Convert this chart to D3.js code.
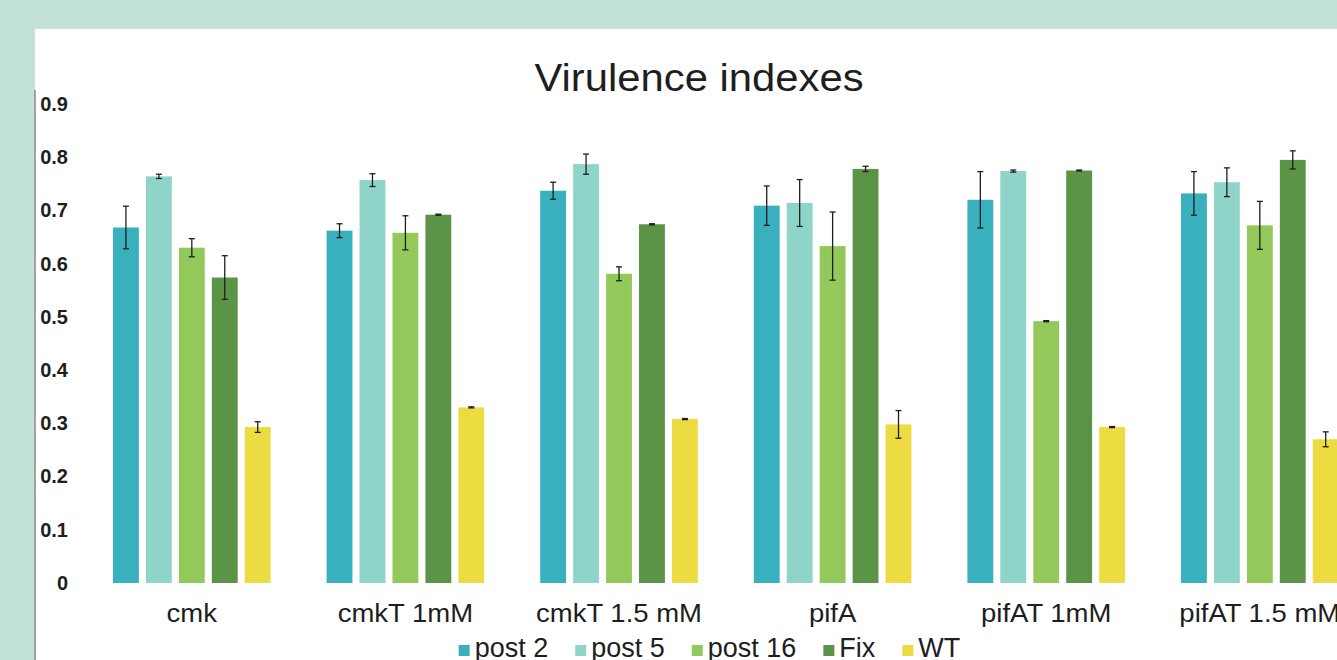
<!DOCTYPE html>
<html>
<head>
<meta charset="utf-8">
<script src="https://cdn.jsdelivr.net/npm/d3@7"></script>
<style>
  html, body { margin: 0; padding: 0; background: #c1e1d9; }
  svg { display: block; }
  text { font-family: "Liberation Sans", Arial, Helvetica, sans-serif; fill: #1e1e1e; }
</style>
</head>
<body>
<svg id="chart" width="1337" height="660"></svg>
<script>
// ---- data ----
const categories = ["cmk", "cmkT 1mM", "cmkT 1.5 mM", "pifA", "pifAT 1mM", "pifAT 1.5 mM"];
const seriesNames = ["post 2", "post 5", "post 16", "Fix", "WT"];
const post2    = [0.668, 0.662, 0.737, 0.709, 0.720, 0.732];
const post2Err = [0.040, 0.013, 0.016, 0.037, 0.053, 0.041];
const post5    = [0.764, 0.757, 0.787, 0.714, 0.774, 0.753];
const post5Err = [0.004, 0.012, 0.019, 0.044, 0.002, 0.027];
const post16    = [0.630, 0.658, 0.581, 0.633, 0.492, 0.672];
const post16Err = [0.017, 0.032, 0.013, 0.064, 0.001, 0.045];
const fix    = [0.574, 0.692, 0.674, 0.778, 0.775, 0.795];
const fixErr = [0.041, 0.001, 0.001, 0.005, 0.001, 0.017];
const wt    = [0.293, 0.330, 0.308, 0.298, 0.293, 0.270];
const wtErr = [0.010, 0.001, 0.001, 0.026, 0.001, 0.014];
const yTicks = [0, 0.1, 0.2, 0.3, 0.4, 0.5, 0.6, 0.7, 0.8, 0.9];
const yTickLabels = ["0", "0.1", "0.2", "0.3", "0.4", "0.5", "0.6", "0.7", "0.8", "0.9"];
const colors = ["#39b0bd", "#8ed4c8", "#93c95b", "#5c9447", "#ecdb41"];
const title = "Virulence indexes";

const values = [post2, post5, post16, fix, wt];
const errors = [post2Err, post5Err, post16Err, fixErr, wtErr];
const table = categories.map((c, i) => ({
  cat: c,
  items: seriesNames.map((s, j) => ({ s, v: values[j][i], e: errors[j][i] }))
}));

const svg = d3.select("#chart");
const W = 1337, H = 660;
const STRETCH = 1.1;

// white panel
svg.append("rect").attr("x", 35).attr("y", 29).attr("width", W - 35).attr("height", H - 29).attr("fill", "#ffffff");
// left axis line
svg.append("line").attr("x1", 35).attr("x2", 35).attr("y1", 90).attr("y2", H)
  .attr("stroke", "#8a8a8a").attr("stroke-width", 1.5);

// scales
const y = d3.scaleLinear().domain([0, 0.9]).range([583, 104]);
const step0 = 213.6, pIn0 = 0.262, pOut0 = 0.3;
const x0start = 113 - pOut0 * step0;
const x0 = d3.scaleBand().domain(categories)
  .range([x0start, x0start + step0 * (categories.length - pIn0 + 2 * pOut0)])
  .paddingInner(pIn0).paddingOuter(pOut0);
const x1 = d3.scaleBand().domain(seriesNames).range([0, x0.bandwidth()]).paddingInner(0.215).paddingOuter(0);
const color = d3.scaleOrdinal().domain(seriesNames).range(colors);

// y axis labels
const yAxis = d3.axisLeft(y).tickValues(yTicks).tickSize(0).tickPadding(0)
  .tickFormat((d, i) => yTickLabels[i]);
const gy = svg.append("g").attr("transform", "translate(68,0)").call(yAxis);
gy.select(".domain").remove();
gy.selectAll("text").attr("font-size", 20).attr("font-weight", "bold")
  .attr("font-family", "Liberation Sans, Arial, sans-serif").attr("fill", "#1e1e1e");

// title
svg.append("text").attr("transform", `translate(699,91) scale(${STRETCH},1)`)
  .attr("text-anchor", "middle").attr("font-size", 38).text(title);

// bars
const groups = svg.selectAll("g.grp").data(table).join("g").attr("class", "grp")
  .attr("transform", d => `translate(${x0(d.cat)},0)`);
groups.selectAll("rect").data(d => d.items).join("rect")
  .attr("x", d => x1(d.s)).attr("width", x1.bandwidth())
  .attr("y", d => y(d.v)).attr("height", d => y(0) - y(d.v))
  .attr("fill", d => color(d.s));

// error bars
const eb = groups.selectAll("g.eb").data(d => d.items).join("g").attr("class", "eb")
  .attr("transform", d => `translate(${x1(d.s) + x1.bandwidth() / 2},0)`);
eb.append("line").attr("x1", 0).attr("x2", 0)
  .attr("y1", d => y(d.v + d.e)).attr("y2", d => y(d.v - d.e))
  .attr("stroke", "#1e1e1e").attr("stroke-width", 1.3);
eb.append("line").attr("x1", -3).attr("x2", 3)
  .attr("y1", d => y(d.v + d.e)).attr("y2", d => y(d.v + d.e))
  .attr("stroke", "#1e1e1e").attr("stroke-width", 1.3);
eb.append("line").attr("x1", -3).attr("x2", 3)
  .attr("y1", d => y(d.v - d.e)).attr("y2", d => y(d.v - d.e))
  .attr("stroke", "#1e1e1e").attr("stroke-width", 1.3);

// category labels
svg.selectAll("text.cat").data(categories).join("text").attr("class", "cat")
  .attr("transform", d => `translate(${x0(d) + x0.bandwidth() / 2},622) scale(${STRETCH},1)`)
  .attr("text-anchor", "middle").attr("font-size", 25).text(d => d);

// legend
const leg = svg.append("g");
const items = leg.selectAll("g").data(seriesNames).join("g");
items.append("rect").attr("width", 11).attr("height", 11).attr("y", -12).attr("fill", d => color(d));
items.append("text").attr("x", 16).attr("font-size", 27).text(d => d);
let xPos = 0;
items.each(function(d) {
  const w = d3.select(this).select("text").node().getComputedTextLength();
  d3.select(this).attr("transform", `translate(${xPos},0)`);
  xPos += 16 + w + 27;
});
const total = xPos - 27;
leg.attr("transform", `translate(${709.5 - total / 2},657)`);
</script>
</body>
</html>
